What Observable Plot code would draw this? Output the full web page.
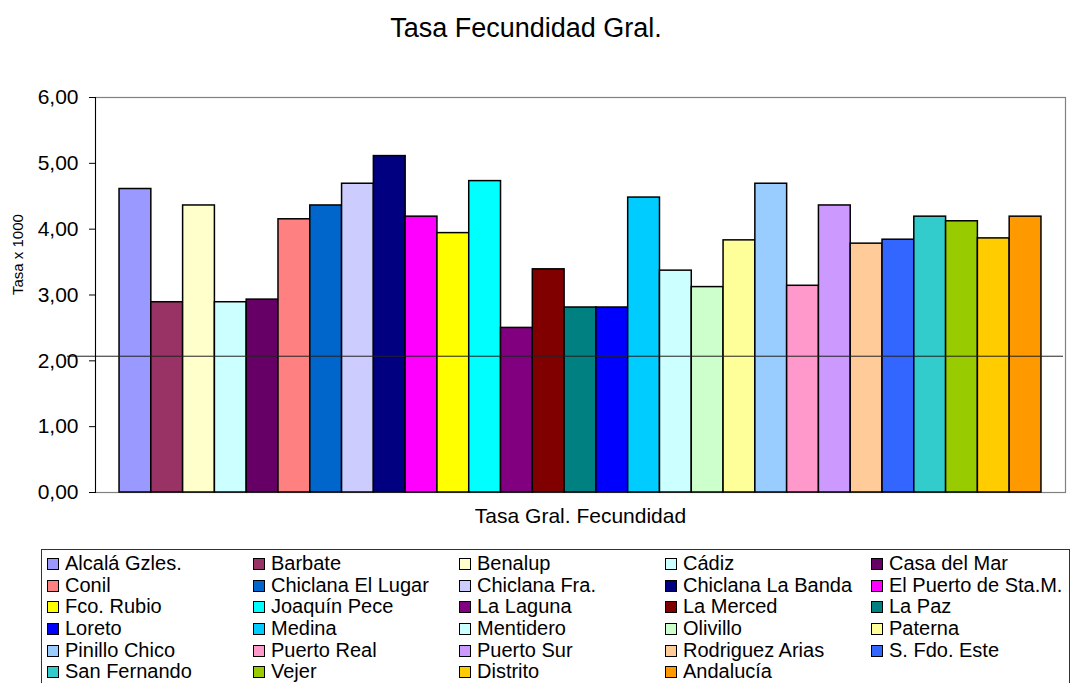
<!DOCTYPE html>
<html>
<head>
<meta charset="utf-8">
<script src="https://cdn.jsdelivr.net/npm/d3@7"></script>
<script src="https://cdn.jsdelivr.net/npm/@observablehq/plot@0.6"></script>
<style>
  body { margin: 0; background: #fff; font-family: "Liberation Sans", Arial, sans-serif; color: #000; }
  #title { height: 60px; width: 1052px; text-align: center; font-size: 27px; line-height: 56px; }
  #chart svg { display: block; }
  #legend { margin-left: 41px; margin-top: 9px; width: 1029px; border: 1px solid #333; border-bottom: none;
            padding: 3px 0 0 5px; box-sizing: border-box; display: grid; grid-template-columns: repeat(5, 206px);
            font-size: 20px; }
  .item { height: 21.7px; line-height: 21.7px; white-space: nowrap; display: flex; align-items: center; }
  .sw { width: 10px; height: 10px; border: 1px solid #000; margin-right: 6px; flex: none; }
</style>
</head>
<body>
<div id="title">Tasa Fecundidad Gral.</div>
<div id="chart"></div>
<div id="legend"></div>
<script>
const names = ["Alcalá Gzles.", "Barbate", "Benalup", "Cádiz", "Casa del Mar",
  "Conil", "Chiclana El Lugar", "Chiclana Fra.", "Chiclana La Banda", "El Puerto de Sta.M.",
  "Fco. Rubio", "Joaquín Pece", "La Laguna", "La Merced", "La Paz",
  "Loreto", "Medina", "Mentidero", "Olivillo", "Paterna",
  "Pinillo Chico", "Puerto Real", "Puerto Sur", "Rodriguez Arias", "S. Fdo. Este",
  "San Fernando", "Vejer", "Distrito", "Andalucía"];
const values = [4.61, 2.89, 4.36, 2.89, 2.93,
  4.15, 4.36, 4.69, 5.11, 4.19,
  3.94, 4.73, 2.50, 3.39, 2.81,
  2.81, 4.48, 3.37, 3.12, 3.83,
  4.69, 3.14, 4.36, 3.78, 3.84,
  4.19, 4.12, 3.86, 4.19];
const colors = ["#9999FF", "#993366", "#FFFFCC", "#CCFFFF", "#660066",
  "#FF8080", "#0066CC", "#CCCCFF", "#000080", "#FF00FF",
  "#FFFF00", "#00FFFF", "#800080", "#800000", "#008080",
  "#0000FF", "#00CCFF", "#CCFFFF", "#CCFFCC", "#FFFF99",
  "#99CCFF", "#FF99CC", "#CC99FF", "#FFCC99", "#3366FF",
  "#33CCCC", "#99CC00", "#FFCC00", "#FF9900"];
const yTicks = [0, 1, 2, 3, 4, 5, 6];
const referenceLevel = [2.07];
const yLabel = "Tasa x 1000";
const xLabel = "Tasa Gral. Fecundidad";

const data = names.map((n, i) => ({name: n, value: values[i]}));

const chart = Plot.plot({
  width: 1075,
  height: 480,
  marginTop: 37,
  marginBottom: 48,
  marginLeft: 95,
  marginRight: 10,
  style: {fontFamily: "'Liberation Sans', Arial, sans-serif", fontSize: "21px", color: "#000", background: "#fff"},
  x: {type: "band", domain: names, paddingInner: 0, paddingOuter: 0.756, round: false, axis: null},
  y: {domain: [0, 6], ticks: yTicks, axis: null},
  color: {domain: names, range: colors},
  marks: [
    Plot.frame({stroke: "#808080", strokeWidth: 1.2}),
    Plot.barY(data, {x: "name", y: "value", fill: "name", stroke: "#000", strokeWidth: 1.5}),
    Plot.ruleY(referenceLevel, {stroke: "#222", strokeWidth: 1, insetLeft: -28, insetRight: 2}),
    Plot.axisY({ticks: yTicks, tickSize: 6, tickPadding: 11, fontSize: 21, label: null,
      tickFormat: d => d.toFixed(2).replace(".", ",")}),
    Plot.frame({anchor: "left", stroke: "#000", strokeWidth: 1}),
    Plot.text([yLabel], {frameAnchor: "left", dx: -77, rotate: -90, fontSize: 15, text: d => d}),
    Plot.text([xLabel], {frameAnchor: "bottom", dy: 30, fontSize: 21, text: d => d})
  ]
});
document.getElementById("chart").appendChild(chart);

const legend = document.getElementById("legend");
names.forEach((n, i) => {
  const it = document.createElement("div");
  it.className = "item";
  const sw = document.createElement("span");
  sw.className = "sw";
  sw.style.background = colors[i];
  const tx = document.createElement("span");
  tx.textContent = n;
  it.appendChild(sw);
  it.appendChild(tx);
  legend.appendChild(it);
});
</script>
</body>
</html>
